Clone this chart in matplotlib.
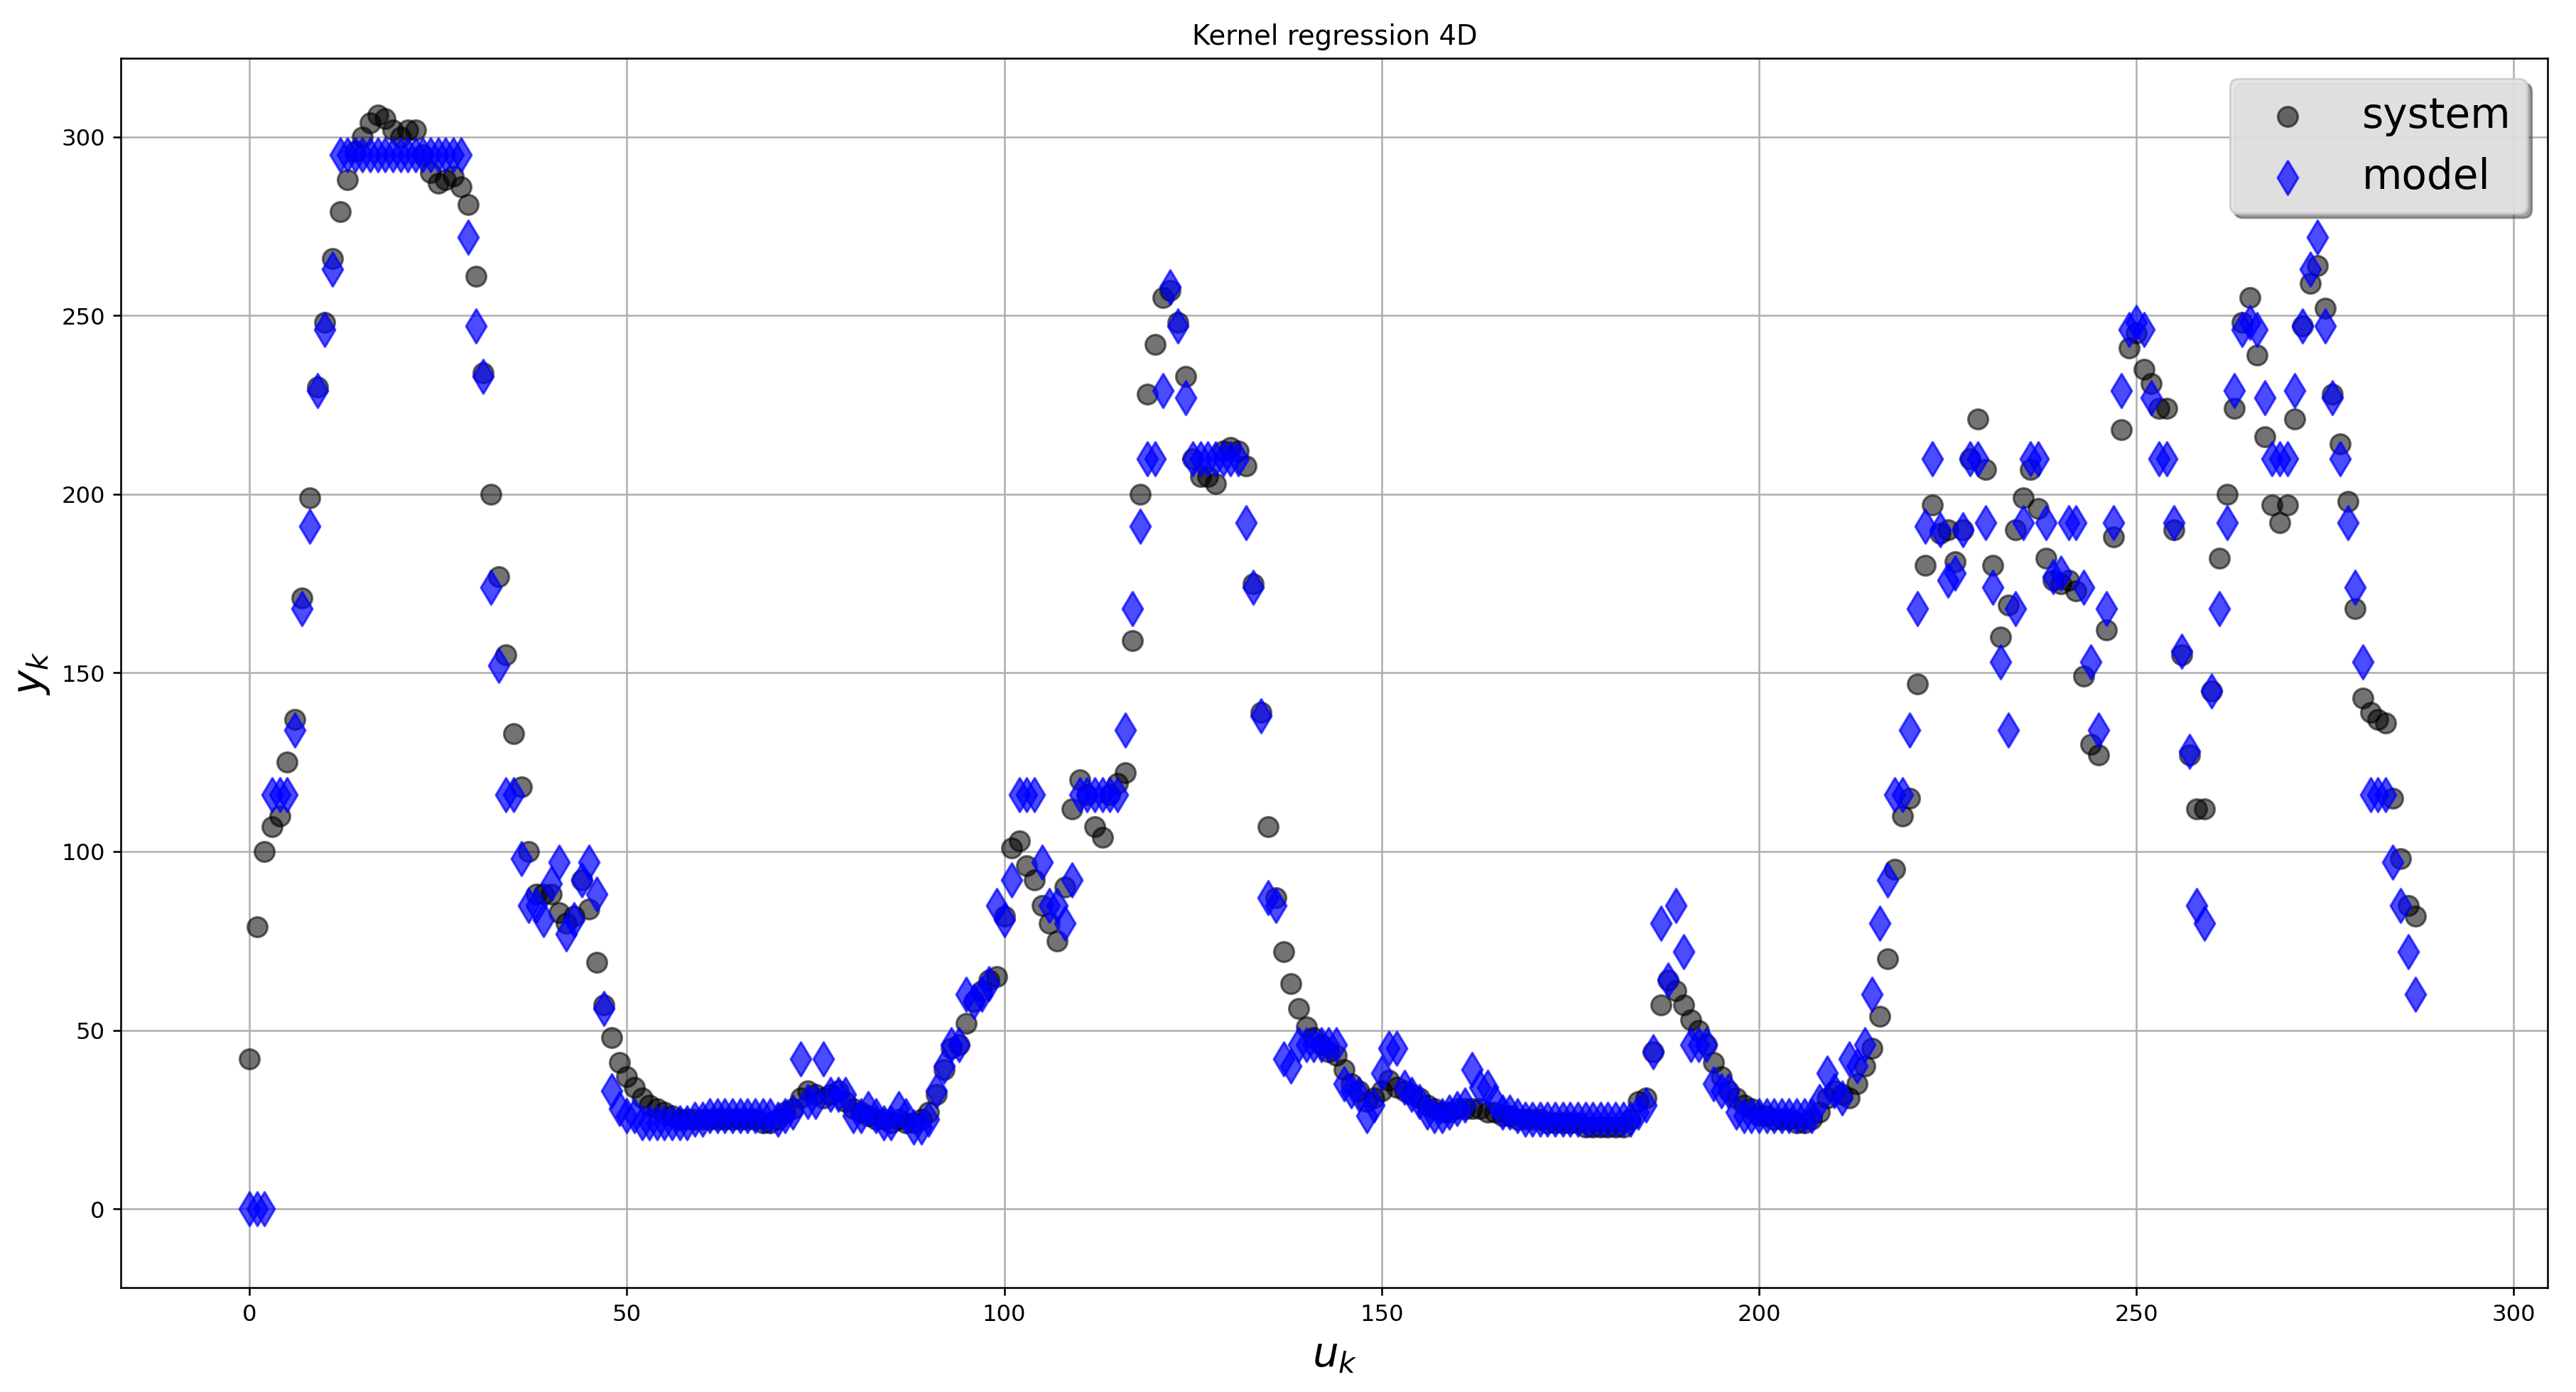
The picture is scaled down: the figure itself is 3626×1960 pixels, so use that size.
import matplotlib
matplotlib.use("Agg")
import matplotlib.pyplot as plt
import numpy as np

system = [42,79,100,107,110,125,137,171,199,230,248,266,279,288,296,300,304,306,305,302,
300,302,302,295,290,287,288,289,286,281,261,234,200,177,155,133,118,100,88,88,
88,83,80,82,92,84,69,57,48,41,37,34,31,29,28,27,26,25,25,25,
25,25,25,25,25,25,25,25,24,24,25,27,28,31,33,32,31,32,33,30,
28,27,26,25,25,24,25,24,24,25,27,32,39,45,46,52,58,61,64,65,
82,101,103,96,92,85,80,75,90,112,120,116,107,104,116,119,122,159,200,228,
242,255,257,248,233,210,205,205,203,212,213,212,208,175,139,107,87,72,63,56,
51,48,46,44,43,39,35,33,30,31,33,36,34,33,32,31,29,28,27,27,
28,28,28,28,27,27,26,26,25,25,25,25,24,24,24,24,24,23,23,23,
23,23,23,25,30,31,44,57,64,61,57,53,50,46,41,37,33,31,29,28,
26,26,25,25,25,24,24,25,27,31,33,32,31,35,40,45,54,70,95,110,
115,147,180,197,189,190,181,190,210,221,207,180,160,169,190,199,207,196,182,176,
175,176,173,149,130,127,162,188,218,241,245,235,231,224,224,190,155,127,112,112,
145,182,200,224,248,255,239,216,197,192,197,221,247,259,264,252,228,214,198,168,
143,139,137,136,115,98,85,82]

model = [0,0,0,116,116,116,134,168,191,229,246,263,295,295,295,295,295,295,295,295,
295,295,295,295,295,295,295,295,295,272,247,233,174,152,116,116,98,85,85,81,
91,97,77,81,92,97,88,56,33,28,26,26,24,24,24,24,24,24,24,25,
25,26,26,26,26,26,26,26,26,26,25,26,27,42,30,30,42,32,32,32,
26,26,28,26,24,24,28,26,23,23,25,33,40,46,46,60,58,60,63,85,
81,92,116,116,116,97,85,85,80,92,116,116,116,116,116,116,134,168,191,210,
210,229,258,247,227,210,210,210,210,210,210,210,192,174,138,87,85,42,40,46,
46,46,46,46,46,35,33,32,26,29,38,45,45,34,32,30,27,26,26,27,
28,29,39,34,34,30,27,27,26,25,25,25,25,25,25,25,25,25,25,25,
25,25,25,25,27,29,44,80,64,85,72,46,46,46,35,33,33,27,26,26,
26,26,26,26,26,26,26,26,30,38,33,31,42,40,46,60,80,92,116,116,
134,168,191,210,190,176,178,190,210,210,192,174,153,134,168,192,210,210,192,177,
178,192,192,174,153,134,168,192,229,246,248,246,227,210,210,192,156,128,85,80,
145,168,192,229,246,248,246,227,210,210,210,229,247,263,272,247,227,210,192,174,
153,116,116,116,97,85,72,60]

u = np.arange(len(system))

fig = plt.figure(figsize=(15.63, 8.45), dpi=232)
ax = fig.add_axes([0.047, 0.075, 0.942, 0.883])
ax.scatter(u, system, s=75, color='black', alpha=0.55, label='system', zorder=2)
ax.scatter(u, model, s=110, marker='d', color='blue', alpha=0.7, label='model', zorder=3)
ax.set_xlim(-17, 304.5)
ax.set_ylim(-22, 322)
ax.set_xticks([0, 50, 100, 150, 200, 250, 300])
ax.grid(True)
ax.set_axisbelow(True)
ax.set_title('Kernel regression 4D')
ax.set_xlabel('$u_k$', fontsize=18)
ax.set_ylabel('$y_k$', fontsize=18)
ax.legend(loc='upper right', fontsize=18, shadow=True, fancybox=True, facecolor='#e6e6e6', framealpha=0.9)
fig.savefig('out.png', dpi=232)
